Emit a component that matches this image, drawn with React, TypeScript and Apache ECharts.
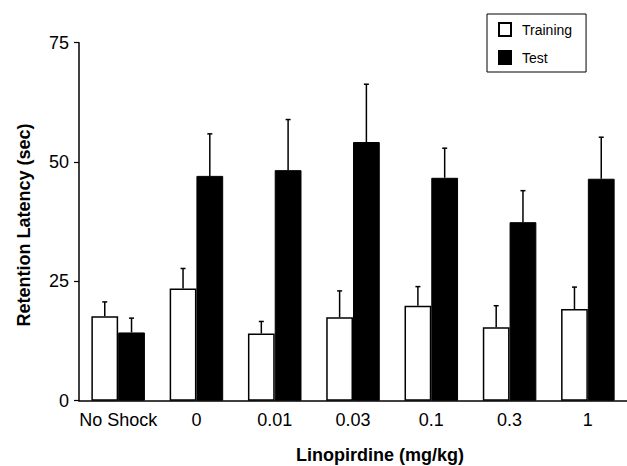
import React, { useEffect, useRef } from "react";
import * as echarts from "echarts";

const categories = ["No Shock", "0", "0.01", "0.03", "0.1", "0.3", "1"];
const trainingMean = [17.7, 23.5, 14.1, 17.5, 19.9, 15.4, 19.2];
const trainingSem = [3.0, 4.2, 2.5, 5.5, 4.0, 4.5, 4.6];
const testMean = [14.3, 47.1, 48.3, 54.2, 46.7, 37.4, 46.5];
const testSem = [3.0, 8.8, 10.6, 12.1, 6.2, 6.6, 8.7];
const yTicks = [0, 25, 50, 75];

const FONT = "'Liberation Sans', Arial, Helvetica, sans-serif";
const CAT_GAP = 0.316;

const makeErr = (sign: number) => (params: any, api: any) => {
  const idx = api.value(0);
  const mean = api.value(1);
  const sem = api.value(2);
  const base = api.coord([idx, mean]);
  const top = api.coord([idx, mean + sem]);
  const band = api.size([1, 0])[0];
  const x = base[0] + (sign * band * (1 - CAT_GAP)) / 4;
  const style = { stroke: "#000", lineWidth: 1.5 };
  return {
    type: "group",
    children: [
      { type: "line", shape: { x1: x, y1: base[1], x2: x, y2: top[1] }, style },
      { type: "line", shape: { x1: x - 2.5, y1: top[1], x2: x + 2.5, y2: top[1] }, style },
    ],
  };
};

export default function App() {
  const ref = useRef<HTMLDivElement>(null);
  useEffect(() => {
    if (!ref.current) return;
    const chart = echarts.init(ref.current, undefined, { renderer: "svg" });
    chart.setOption({
      animation: false,
      backgroundColor: "#fff",
      textStyle: { fontFamily: FONT, color: "#000" },
      grid: { left: 79, top: 42.7, height: 358, width: 553 },
      legend: {
        data: ["Training", "Test"],
        orient: "vertical",
        left: 487,
        top: 14,
        padding: [8, 14, 7, 11],
        borderColor: "#000",
        borderWidth: 1,
        itemWidth: 12,
        itemHeight: 13,
        itemGap: 13,
        icon: "rect",
        textStyle: { fontFamily: FONT, fontSize: 14, color: "#000", padding: [0, 0, 0, 6] },
      },
      xAxis: {
        type: "category",
        data: categories,
        boundaryGap: true,
        axisLine: { lineStyle: { color: "#000", width: 1.5 } },
        axisTick: { alignWithLabel: true, interval: 0, length: 5, lineStyle: { color: "#000", width: 1.2 } },
        axisLabel: { interval: 0, hideOverlap: false, fontFamily: FONT, fontSize: 18, color: "#000", margin: 10 },
        splitLine: { show: false },
      },
      yAxis: {
        type: "value",
        min: yTicks[0],
        max: yTicks[yTicks.length - 1],
        interval: 25,
        axisLine: { show: true, lineStyle: { color: "#000", width: 1.5 } },
        axisTick: { show: true, length: 5, lineStyle: { color: "#000", width: 1.2 } },
        axisLabel: { fontFamily: FONT, fontSize: 18, color: "#000", margin: 10 },
        splitLine: { show: false },
      },
      graphic: [
        {
          type: "text",
          x: 24,
          y: 225,
          rotation: Math.PI / 2,
          style: {
            text: "Retention Latency (sec)",
            font: `bold 18px ${FONT}`,
            fill: "#000",
            align: "center",
            verticalAlign: "middle",
          },
        },
        {
          type: "text",
          x: 380,
          y: 455,
          style: {
            text: "Linopirdine (mg/kg)",
            font: `bold 18px ${FONT}`,
            fill: "#000",
            align: "center",
            verticalAlign: "middle",
          },
        },
      ],
      series: [
        {
          name: "Training",
          type: "bar",
          data: trainingMean,
          barGap: "0%",
          barCategoryGap: `${CAT_GAP * 100}%`,
          itemStyle: { color: "#fff", borderColor: "#000", borderWidth: 1.5 },
        },
        {
          name: "Test",
          type: "bar",
          data: testMean,
          barGap: "0%",
          barCategoryGap: `${CAT_GAP * 100}%`,
          itemStyle: { color: "#000", borderColor: "#000", borderWidth: 1 },
        },
        {
          name: "TrainingErr",
          type: "custom",
          renderItem: makeErr(-1),
          encode: { x: 0, y: 1 },
          data: categories.map((_, i) => [i, trainingMean[i], trainingSem[i]]),
          z: 5,
        },
        {
          name: "TestErr",
          type: "custom",
          renderItem: makeErr(1),
          encode: { x: 0, y: 1 },
          data: categories.map((_, i) => [i, testMean[i], testSem[i]]),
          z: 5,
        },
      ],
    });
    return () => chart.dispose();
  }, []);
  return (
    <div
      ref={ref}
      style={{ position: "absolute", left: 0, top: 0, width: 627, height: 466 }}
    />
  );
}
